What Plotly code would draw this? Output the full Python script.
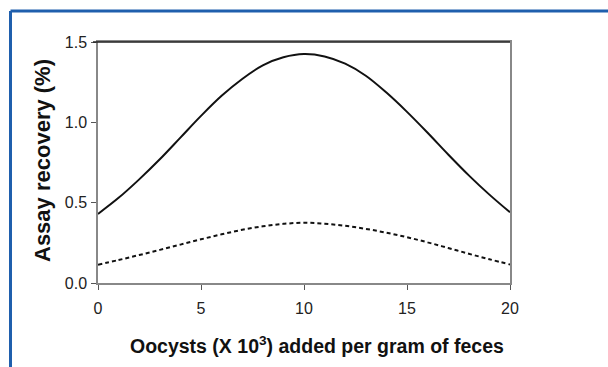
import plotly.graph_objects as go

x_vals = list(range(0, 21))
solid_vals = [0.43, 0.53, 0.645, 0.77, 0.905, 1.04, 1.165, 1.27, 1.355, 1.405, 1.425,
              1.41, 1.365, 1.29, 1.185, 1.065, 0.935, 0.80, 0.67, 0.55, 0.44]
dashed_vals = [0.114, 0.143, 0.174, 0.206, 0.239, 0.272, 0.303, 0.331, 0.353, 0.368, 0.375,
               0.369, 0.356, 0.337, 0.313, 0.285, 0.253, 0.218, 0.182, 0.148, 0.115]
x_ticks = [0, 5, 10, 15, 20]
y_ticks = [0.0, 0.5, 1.0, 1.5]
y_tick_text = ["0.0", "0.5", "1.0", "1.5"]
x_title = "<b>Oocysts (X 10<sup>3</sup>) added per gram of feces</b>"
y_title = "<b>Assay recovery (%)</b>"

fig = go.Figure()
fig.add_trace(go.Scatter(x=x_vals, y=solid_vals, mode="lines",
                         line=dict(color="#111111", width=2, shape="spline"),
                         showlegend=False, hoverinfo="skip"))
fig.add_trace(go.Scatter(x=x_vals, y=dashed_vals, mode="lines",
                         line=dict(color="#111111", width=2, shape="spline", dash="4px,3px"),
                         showlegend=False, hoverinfo="skip"))

W, H = 608, 367
L, R, T, B = 98, 98, 42, 84
pw = W - L - R
ph = H - T - B

def px_x(p):
    return (p - L) / pw

def px_y(p):
    return (H - B - p) / ph

fig.update_layout(
    width=W, height=H,
    margin=dict(l=L, r=R, t=T, b=B, pad=0),
    paper_bgcolor="white", plot_bgcolor="white",
    font=dict(family="Liberation Sans, Arial, sans-serif", color="#222222"),
    xaxis=dict(range=[0, 20], tickvals=x_ticks, ticks="outside", ticklen=5,
               tickcolor="#555555", showline=True, linecolor="#888888", linewidth=1.5,
               mirror=True, showgrid=False, zeroline=False,
               tickfont=dict(size=16, color="#222222"), ticklabelstandoff=5),
    yaxis=dict(range=[0, 1.5], tickvals=y_ticks, ticktext=y_tick_text, ticks="outside",
               ticklen=5, tickcolor="#555555", showline=True, linecolor="#888888",
               linewidth=1.5, mirror=True, showgrid=False, zeroline=False,
               tickfont=dict(size=16, color="#222222"), ticklabelstandoff=1),
)

fig.add_annotation(text=x_title, xref="paper", yref="paper",
                   x=px_x(317), y=px_y(345), xanchor="center", yanchor="middle",
                   showarrow=False, font=dict(size=19.5, color="#111111"))
fig.add_annotation(text=y_title, xref="paper", yref="paper", textangle=-90,
                   x=px_x(42), y=px_y(161), xanchor="center", yanchor="middle",
                   showarrow=False, font=dict(size=22, color="#111111"))

# dark top border of the plot box
fig.add_shape(type="line", xref="paper", yref="paper", x0=px_x(L - 5), x1=1, y0=1, y1=1,
              line=dict(color="#222222", width=1.5))
# blue frame (top and left)
fx = px_x(10.5)
fy = px_y(11)
fig.add_shape(type="line", xref="paper", yref="paper", x0=fx, x1=px_x(W + 20), y0=fy, y1=fy,
              line=dict(color="#1f5fad", width=3))
fig.add_shape(type="line", xref="paper", yref="paper", x0=fx, x1=fx, y0=fy, y1=px_y(H + 20),
              line=dict(color="#1f5fad", width=3))

fig.write_html("out.html",
               config={"displayModeBar": False},
               post_script="document.body.style.margin='0px';document.body.style.padding='0px';")
